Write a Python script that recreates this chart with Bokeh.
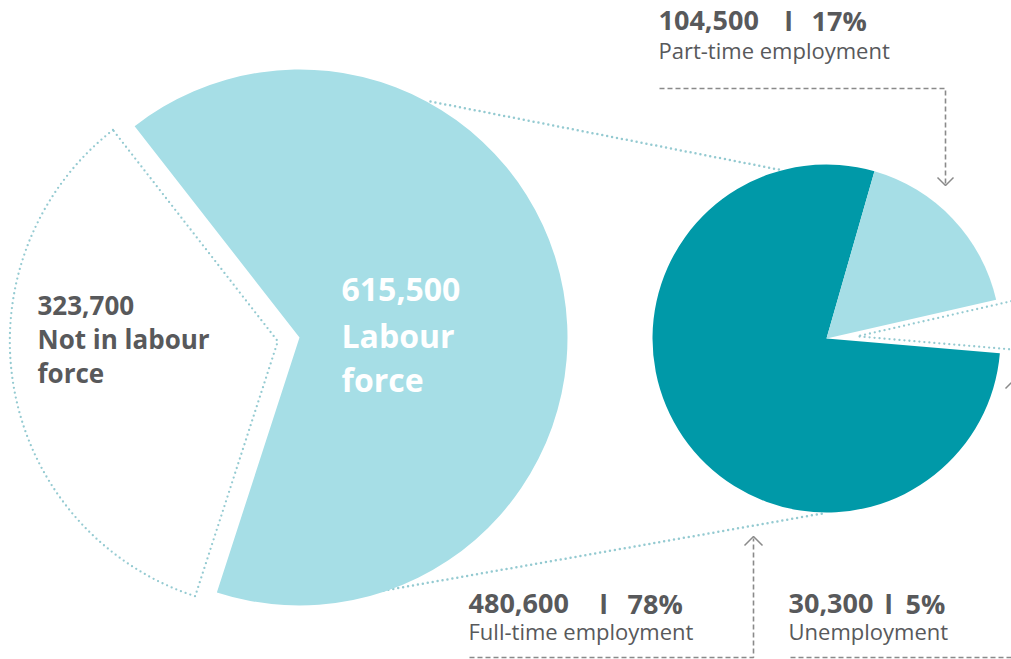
import math
from bokeh.plotting import figure
from bokeh.models import Range1d
from bokeh.core.properties import value
from bokeh.embed import file_html
from bokeh.resources import INLINE

# ---------------- data ----------------
big_labels = ["Not in labour force", "Labour force"]
big_values = [323700, 615500]

small_labels = ["Unemployment", "Part-time employment", "Full-time employment"]
small_values = [30300, 104500, 480600]
small_pcts = [5, 17, 78]

# ---------------- styles / layout ----------------
LIGHT = "#a6dee6"
TEAL = "#0099a8"
DOT = "#94cad1"
GREY_TXT = "#58595b"
GREY_LINE = "#8a8a8a"
FONT = value("Open Sans")

W_REF, H_REF = 1011, 659


def Y(v):
    return H_REF - v


p = figure(width=W_REF, height=H_REF, x_range=Range1d(0, W_REF), y_range=Range1d(0, H_REF),
           output_backend="svg", toolbar_location=None, min_border=0,
           x_axis_location=None, y_axis_location=None)
p.grid.visible = False
p.outline_line_color = None
p.background_fill_color = "white"
p.border_fill_color = "white"

# ---------------- connector dotted lines (behind pies) ----------------
p.line([430, 783], [Y(101), Y(170)], line_color=DOT, line_width=2.5, line_dash="0 5", line_cap="round")
p.line([378, 822], [Y(591), Y(513)], line_color=DOT, line_width=2.5, line_dash="0 5", line_cap="round")

# ---------------- big pie ----------------
BIG_C = (299, Y(337))
BIG_R = 268
BIG_MID_NOT = 190.0   # orientation of the "not in labour force" slice
BIG_EXPLODE = 22

big_total = float(sum(big_values))
not_span = big_values[0] / big_total * 360.0
not_start = BIG_MID_NOT - not_span / 2
not_end = not_start + not_span
lab_start = not_end
lab_end = not_start + 360.0

p.wedge(x=BIG_C[0], y=BIG_C[1], radius=BIG_R,
        start_angle=math.radians(lab_start), end_angle=math.radians(lab_end),
        fill_color=LIGHT, line_color=None, direction="anticlock")

ex = BIG_C[0] + BIG_EXPLODE * math.cos(math.radians(BIG_MID_NOT))
ey = BIG_C[1] + BIG_EXPLODE * math.sin(math.radians(BIG_MID_NOT))
p.wedge(x=ex, y=ey, radius=BIG_R,
        start_angle=math.radians(not_start), end_angle=math.radians(not_end),
        fill_color="white", fill_alpha=0.0, line_color=DOT, line_width=2.3,
        line_dash="0 5", line_cap="round", direction="anticlock")

# ---------------- small pie ----------------
SM_C = (826, Y(338))
SM_R = 174
SM_MID_UNEMP = 4.0
SM_EXPLODE = 31

small_total = float(sum(small_values))
spans = [v / small_total * 360.0 for v in small_values]
starts = []
a = SM_MID_UNEMP - spans[0] / 2
for s in spans:
    starts.append(a)
    a += s

fills = [None, LIGHT, TEAL]
for i in (2, 1):
    p.wedge(x=SM_C[0], y=SM_C[1], radius=SM_R,
            start_angle=math.radians(starts[i]), end_angle=math.radians(starts[i] + spans[i]),
            fill_color=fills[i], line_color=None, direction="anticlock")

ux = SM_C[0] + SM_EXPLODE * math.cos(math.radians(SM_MID_UNEMP))
uy = SM_C[1] + SM_EXPLODE * math.sin(math.radians(SM_MID_UNEMP))
p.wedge(x=ux, y=uy, radius=SM_R,
        start_angle=math.radians(starts[0]), end_angle=math.radians(starts[0] + spans[0]),
        fill_color="white", fill_alpha=0.0, line_color=DOT, line_width=2.3,
        line_dash="0 5", line_cap="round", direction="anticlock")

# ---------------- texts ----------------
def txt(x, y, s, size, color=GREY_TXT, bold=True):
    # compensate for the renderer placing the alphabetic baseline slightly low
    shift = 0.32 * size
    p.text(x=[x], y=[Y(y - shift)], text=[s], text_font=FONT, text_font_size=f"{size}px",
           text_font_style="bold" if bold else "normal", text_color=color,
           text_baseline="alphabetic", text_align="left")


# big pie labels
txt(341, 299, f"{big_values[1]:,}", 32, color="white")
lab_words = big_labels[1].split(" ")
txt(341, 345, lab_words[0], 32, color="white")
txt(341, 389, lab_words[1], 32, color="white")

txt(37, 313, f"{big_values[0]:,}", 26)
not_words = big_labels[0].rsplit(" ", 1)
txt(37, 347, not_words[0], 26)
txt(37, 381, not_words[1], 26)

# small pie labels: (x_num, x_bar, x_pct, baseline_num, baseline_label)
label_pos = {
    "Part-time employment": (658, 784, 811, 29, 57),
    "Full-time employment": (468, 599, 627, 612, 638),
    "Unemployment": (788, 884, 905, 612, 638),
}
for lab, v, pc in zip(small_labels, small_values, small_pcts):
    xn, xb, xp, bn, bl = label_pos[lab]
    txt(xn, bn, f"{v:,}", 27)
    txt(xb, bn, "l", 27)
    txt(xp, bn, f"{pc}%", 27)
    txt(xn, bl, lab, 22, bold=False)

# ---------------- dashed leader lines with arrow heads ----------------
def leader(xs, ys):
    p.line(xs, [Y(v) for v in ys], line_color=GREY_LINE, line_width=1.6, line_dash="5 3")


def chevron(xs, ys):
    p.line(xs, [Y(v) for v in ys], line_color=GREY_LINE, line_width=1.5)


leader([659, 945, 945], [88, 88, 184])
chevron([937, 945, 953], [177, 185, 177])

leader([469, 753, 753], [657, 657, 538])
chevron([744, 753, 762], [545, 536, 545])

leader([790, 1014, 1014], [657, 657, 381])
chevron([1005, 1014, 1023], [388, 379, 388])

open("out.html", "w").write(file_html(p, INLINE))
